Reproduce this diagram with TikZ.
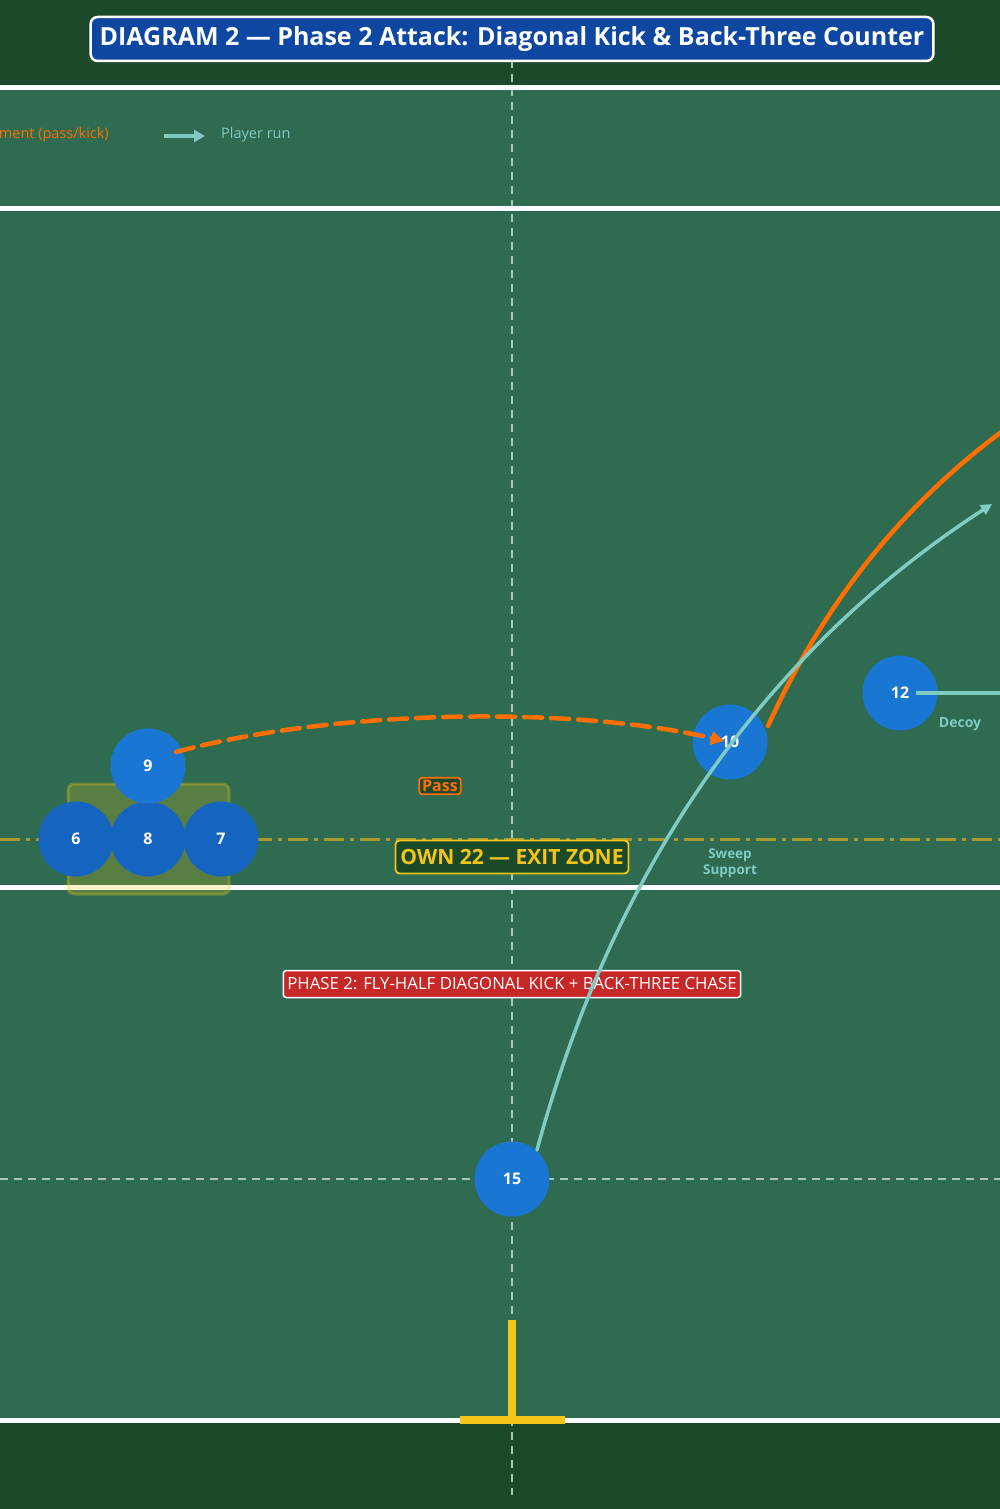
\documentclass[tikz,border=0pt]{standalone}
\usepackage{fontspec}
\setmainfont{Open Sans}
\usetikzlibrary{arrows.meta}
\definecolor{bandgreen}{HTML}{1B4A2B}
\definecolor{fieldgreen}{HTML}{2E6B50}
\definecolor{pblue}{HTML}{1976D2}
\definecolor{fblue}{HTML}{1565C0}
\definecolor{titleblue}{HTML}{0D47A1}
\definecolor{ballorange}{HTML}{FF6F00}
\definecolor{runteal}{HTML}{80CBC4}
\definecolor{postyellow}{HTML}{F5C518}
\definecolor{zoneolive}{HTML}{A89A2F}
\definecolor{phasered}{HTML}{C62828}
\definecolor{guide}{HTML}{A9C7B8}
\tikzset{
  fieldline/.style={draw=white, line width=5pt},
  guideline/.style={draw=guide, line width=1.6pt, dash pattern=on 8pt off 6pt},
  player/.style={circle, fill=pblue, minimum size=75pt, inner sep=0pt, text=white, font=\fontsize{16}{18}\selectfont\bfseries},
  fwd/.style={player, fill=fblue},
  ballpath/.style={draw=ballorange, line width=4.5pt},
  runpath/.style={draw=runteal, line width=3.5pt},
  runlabel/.style={text=runteal, font=\fontsize{14}{16}\selectfont\bfseries, align=center},
}
\begin{document}
\begin{tikzpicture}[x=1pt,y=-1pt]
\useasboundingbox (0,0) rectangle (1000,1509);
\clip (0,0) rectangle (1000,1509);
% background
\fill[bandgreen] (0,0) rectangle (1000,1509);
\fill[fieldgreen] (0,88) rectangle (1000,1420);
% guide lines
\draw[guideline] (512,60) -- (512,1495);
\draw[guideline] (0,1179) -- (1000,1179);
% field lines
\draw[fieldline] (0,88) -- (1000,88);
\draw[fieldline] (0,208) -- (1000,208);
\draw[fieldline] (0,887) -- (1000,887);
\draw[fieldline] (0,1420) -- (1000,1420);
% 22 exit zone dash-dot
\draw[draw=zoneolive, line width=3pt, dash pattern=on 20pt off 6pt on 4pt off 6pt] (0,839) -- (1000,839);
% goal posts
\fill[postyellow] (508,1320) rectangle (516,1420);
\fill[postyellow] (460,1416) rectangle (565,1424);
% scrum box
\draw[draw=postyellow, draw opacity=0.3, fill=postyellow, fill opacity=0.22, line width=3pt, rounded corners=6pt] (68,784) rectangle (229,894);
% title
\node[draw=white, line width=2.5pt, fill=titleblue, rounded corners=7pt, text=white, inner xsep=9pt, minimum height=44pt,
      font=\fontsize{25}{29}\selectfont\bfseries] (title) at (512,39) {DIAGRAM 2 — Phase 2 Attack: Diagonal Kick \& Back-Three Counter};
% legend
\node[anchor=east, text=ballorange, font=\fontsize{14.5}{16}\selectfont, inner sep=0pt] (legball) at (109,135) {Ball movement (pass/kick)};
\coordinate (legrunA) at (164,136);
\coordinate (legrunB) at (205,136);
\draw[runpath, line width=4pt, -{Triangle[length=11pt,width=12pt]}] (legrunA) -- (legrunB);
\node[anchor=west, text=runteal, font=\fontsize{14.5}{16}\selectfont, inner sep=0pt] (legrun) at (221,135) {Player run};
% labels
\node[draw=ballorange, line width=1.8pt, fill=bandgreen, rounded corners=3pt, text=ballorange, inner xsep=3pt, inner ysep=2.5pt,
      font=\fontsize{16}{18}\selectfont\bfseries] (passlbl) at (440,786) {Pass};
\node[draw=postyellow, line width=1.8pt, fill=bandgreen, rounded corners=4pt, text=postyellow, inner xsep=5pt, minimum height=33pt,
      font=\fontsize{21}{24}\selectfont\bfseries] (zonelbl) at (512,857) {OWN 22 — EXIT ZONE};
\node[draw=white, line width=1.5pt, fill=phasered, rounded corners=3pt, text=white, inner xsep=4pt, minimum height=27pt,
      font=\fontsize{16.8}{19}\selectfont] (phaselbl) at (512,984) {PHASE 2: FLY-HALF DIAGONAL KICK + BACK-THREE CHASE};
\node[runlabel] (decoy) at (960,724) {Decoy};
\node[runlabel, font=\fontsize{13.5}{15}\selectfont\bfseries] (sweep) at (730,863) {Sweep\\[1pt]Support};
% players
\node[fwd] (p6) at (76,839) {6};
\node[fwd] (p8) at (148,839) {8};
\node[fwd] (p7) at (221,839) {7};
\node[player] (p9) at (148,766) {9};
\node[player] (p10) at (730,742) {10};
\node[player] (p12) at (900,693) {12};
\node[player] (p15) at (512,1179) {15};
% connector end points
\coordinate (passS) at (176,752);
\coordinate (passE) at (724,741);
\coordinate (kickS) at (768,726);
\coordinate (kickE) at (1000,433);
\coordinate (runS) at (537,1150);
\coordinate (runE) at (992,504);
\coordinate (decoyS) at (916,693);
\coordinate (decoyE) at (1010,693);
% pass
\draw[ballpath, line cap=round, dash pattern=on 18pt off 9pt, -{Triangle[length=13pt,width=13pt]}]
  (passS) .. controls (330,710) and (570,705) .. (passE);
% kick
\draw[ballpath, line cap=round] (kickS) .. controls (822.7,605.3) and (900,507.7) .. (kickE) -- ++(40,-30);
% 15 run
\draw[runpath, line cap=round, -{Triangle[length=11pt,width=11pt]}] (runS) .. controls (613.7,866.7) and (765.3,651.3) .. (runE);
% 12 decoy run
\draw[runpath] (decoyS) -- (decoyE);
\end{tikzpicture}
\end{document}
